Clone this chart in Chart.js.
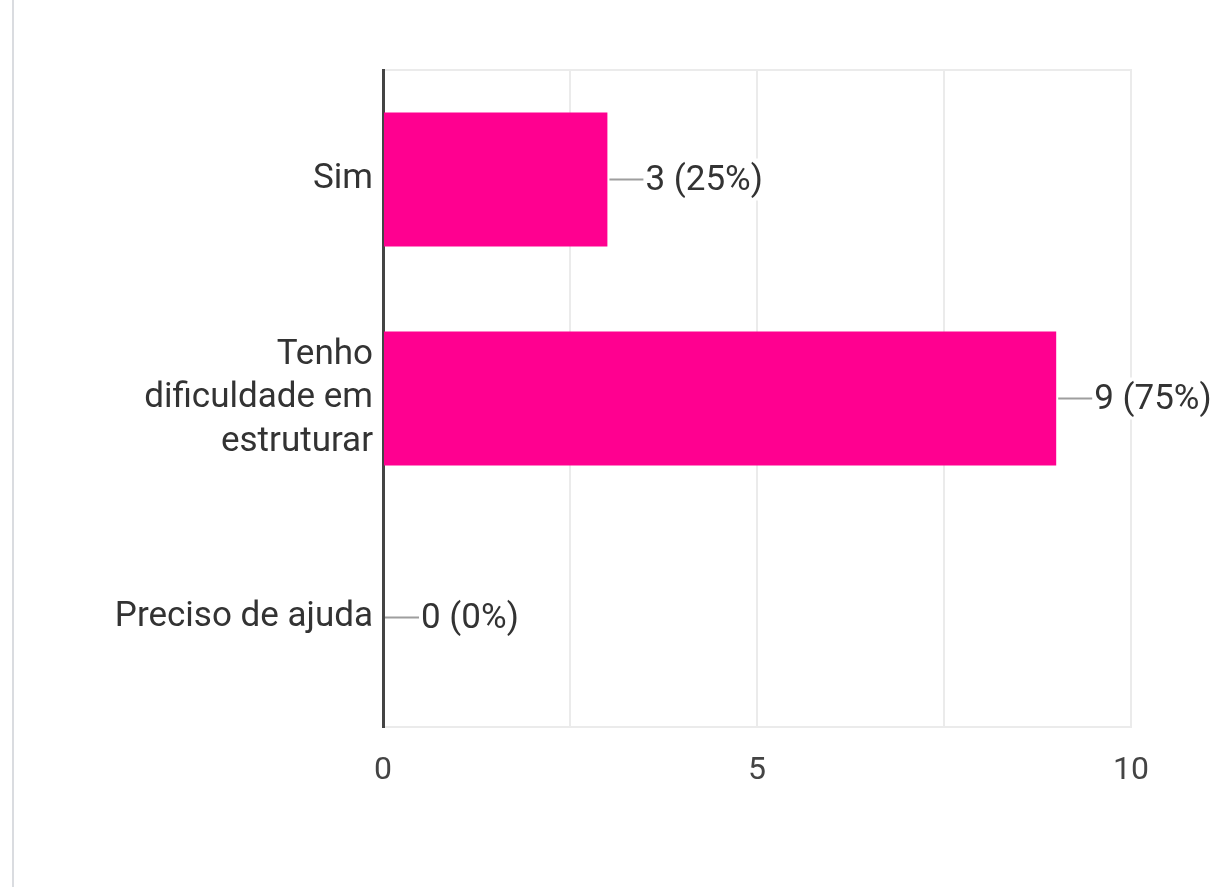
<!DOCTYPE html>
<html>
<head>
<meta charset="utf-8">
<script src="https://cdn.jsdelivr.net/npm/chart.js@4"></script>
<style>
  body { margin: 0; background: #fff; }
  #wrap { width: 1213px; height: 887px; }
</style>
</head>
<body>
<div id="wrap"><canvas id="respostas" width="1213" height="887"></canvas></div>
<script>
// categorias (eixo y), quebradas em linhas como no original
var categorias = [['Sim'], ['Tenho', 'dificuldade em', 'estruturar'], ['Preciso de ajuda']];
var respostas = [3, 9, 0];
var ticksX = [0, 5, 10];

var total = respostas.reduce(function(a, b) { return a + b; }, 0);

// linha cinza na margem esquerda
var margemEsquerda = {
    id: 'margemEsquerda',
    beforeDraw: function(chart) {
        var ctx = chart.ctx;
        ctx.save();
        ctx.fillStyle = '#dadce0';
        ctx.fillRect(12, 0, 2, chart.height);
        ctx.restore();
    }
};

// rótulos "3 (25%)" com linha de ligação
var rotulosBarras = {
    id: 'rotulosBarras',
    afterDatasetsDraw: function(chart) {
        var ctx = chart.ctx;
        var meta = chart.getDatasetMeta(0);
        ctx.save();
        ctx.font = '35px Roboto';
        ctx.textAlign = 'left';
        ctx.textBaseline = 'middle';
        meta.data.forEach(function(bar, i) {
            var v = respostas[i];
            var txt = v + ' (' + Math.round(v / total * 100) + '%)';
            var x = bar.x, y = bar.y;
            ctx.strokeStyle = '#9e9e9e';
            ctx.lineWidth = 2;
            ctx.beginPath();
            ctx.moveTo(x + 2, y);
            ctx.lineTo(x + 36, y);
            ctx.stroke();
            var w = ctx.measureText(txt).width;
            ctx.fillStyle = '#fff';
            ctx.fillRect(x + 37, y - 21, w + 4, 42);
            ctx.fillStyle = '#333';
            ctx.fillText(txt, x + 38, y + 2);
        });
        ctx.restore();
    }
};

new Chart(document.getElementById('respostas'), {
    type: 'bar',
    data: {
        labels: categorias,
        datasets: [{
            data: respostas,
            backgroundColor: '#ff0090',
            borderWidth: 0,
            categoryPercentage: 1,
            barPercentage: 0.613
        }]
    },
    options: {
        indexAxis: 'y',
        responsive: false,
        animation: false,
        layout: { padding: { top: 70, right: 82, bottom: 0, left: 0 } },
        plugins: {
            legend: { display: false },
            tooltip: { enabled: false }
        },
        scales: {
            x: {
                min: 0,
                max: 10,
                afterFit: function(scale) { scale.height = 160; },
                ticks: {
                    stepSize: 2.5,
                    autoSkip: false,
                    maxRotation: 0,
                    padding: 25,
                    color: '#444',
                    font: { family: 'Roboto', size: 32 },
                    callback: function(value) {
                        return ticksX.indexOf(value) >= 0 ? String(value) : '';
                    }
                },
                grid: { color: '#ebebeb', lineWidth: 2, drawTicks: false },
                border: { color: '#ebebeb', width: 2 }
            },
            x2: {
                position: 'top',
                min: 0,
                max: 10,
                afterFit: function(scale) { scale.height = 0; },
                ticks: { display: false },
                grid: { display: false, drawTicks: false },
                border: { color: '#ebebeb', width: 2 }
            },
            y: {
                afterFit: function(scale) { scale.width = 383; },
                ticks: {
                    padding: 10,
                    color: '#333',
                    font: { family: 'Roboto', size: 35, lineHeight: 1.25 }
                },
                grid: { display: false, drawTicks: false },
                border: { color: '#444', width: 3 }
            }
        }
    },
    plugins: [margemEsquerda, rotulosBarras]
});
</script>
</body>
</html>
